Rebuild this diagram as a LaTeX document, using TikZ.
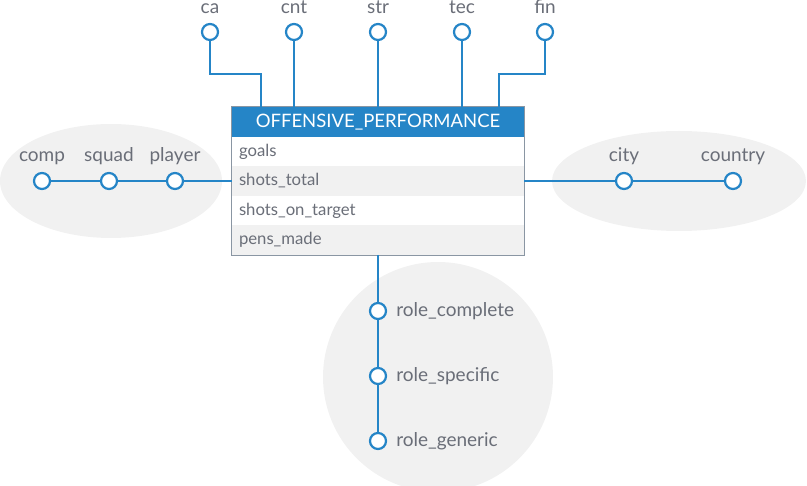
\documentclass[tikz,border=0pt]{standalone}
\usepackage{fontspec}
\setmainfont{Lato}
\definecolor{eblue}{HTML}{2585C7}
\definecolor{etext}{HTML}{6A6E78}
\definecolor{egray}{HTML}{F1F1F1}
\definecolor{eborder}{HTML}{8A96A3}
\tikzset{
  attr/.style={circle, draw=eblue, line width=2.2pt, fill=white, minimum size=16pt, inner sep=0pt},
  lbl/.style={text=etext, font=\fontsize{19}{21}\selectfont, inner sep=0pt},
  conn/.style={draw=eblue, line width=2.2pt},
  row/.style={text=etext, font=\fontsize{16.7}{18}\selectfont, text width=278pt, align=left, inner xsep=7pt, inner ysep=0pt, minimum height=29.5pt, anchor=center},
  hdr/.style={fill=eblue, text=white, font=\fontsize{18.5}{20}\selectfont, minimum width=292pt, minimum height=30pt, inner sep=0pt},
  blob/.style={fill=egray, draw=none}
}
\begin{document}
\begin{tikzpicture}[x=1pt,y=-1pt]
\useasboundingbox (0,0) rectangle (807,486);
% background groups
\fill[blob] (111,181) ellipse [x radius=111, y radius=57];
\fill[blob] (679,181) ellipse [x radius=127, y radius=50];
\fill[blob] (438,377) circle [radius=115];
% table
\node[hdr] (hdr) at (378,122) {OFFENSIVE\_PERFORMANCE};
\node[row, fill=white] (r1) at (378,151.5) {goals};
\node[row, fill=egray] (r2) at (378,181) {shots\_total};
\node[row, fill=white] (r3) at (378,210.5) {shots\_on\_target};
\node[row, fill=egray] (r4) at (378,240) {pens\_made};
\draw[eborder, line width=0.8pt] (hdr.north west) rectangle (r4.south east);
% top attributes
\node[attr] (ca) at (210,32) {};
\node[attr] (cnt) at (294,32) {};
\node[attr] (str) at (378,32) {};
\node[attr] (tec) at (462,32) {};
\node[attr] (fin) at (545,32) {};
\foreach \n/\t in {ca/ca, cnt/cnt, str/str, tec/tec, fin/fin}
  \node[lbl, anchor=base] at ([yshift=18pt]\n.center) {\t};
\coordinate (caK) at (261,74);
\coordinate (caT) at (261,107);
\coordinate (cntT) at (294,107);
\coordinate (tecT) at (462,107);
\coordinate (finK) at (499,74);
\coordinate (finT) at (499,107);
\draw[conn] (ca) |- (caK) -- (caT);
\draw[conn] (cnt) -- (cntT);
\draw[conn] (str) -- (hdr.north);
\draw[conn] (tec) -- (tecT);
\draw[conn] (fin) |- (finK) -- (finT);
% left group
\node[attr] (comp) at (42,181) {};
\node[attr] (squad) at (109,181) {};
\node[attr] (player) at (175,181) {};
\node[lbl, anchor=base] at ([yshift=19pt]comp.center) {comp};
\node[lbl, anchor=base] at ([yshift=19pt]squad.center) {squad};
\node[lbl, anchor=base] at ([yshift=19pt]player.center) {player};
\draw[conn] (comp) -- (squad);
\draw[conn] (squad) -- (player);
\draw[conn] (player) -- (r2.west);
% right group
\node[attr] (city) at (624,181) {};
\node[attr] (country) at (733,181) {};
\node[lbl, anchor=base] at ([yshift=19pt]city.center) {city};
\node[lbl, anchor=base] at ([yshift=19pt]country.center) {country};
\draw[conn] (r2.east) -- (city);
\draw[conn] (city) -- (country);
% bottom group
\node[attr] (rc) at (378,311) {};
\node[attr] (rs) at (378,376) {};
\node[attr] (rg) at (378,441) {};
\node[lbl, anchor=west] at ([xshift=9pt]rc.east) {role\_complete};
\node[lbl, anchor=west] at ([xshift=9pt]rs.east) {role\_specific};
\node[lbl, anchor=west] at ([xshift=9pt]rg.east) {role\_generic};
\draw[conn] (r4.south) -- (rc);
\draw[conn] (rc) -- (rs);
\draw[conn] (rs) -- (rg);
\end{tikzpicture}
\end{document}
